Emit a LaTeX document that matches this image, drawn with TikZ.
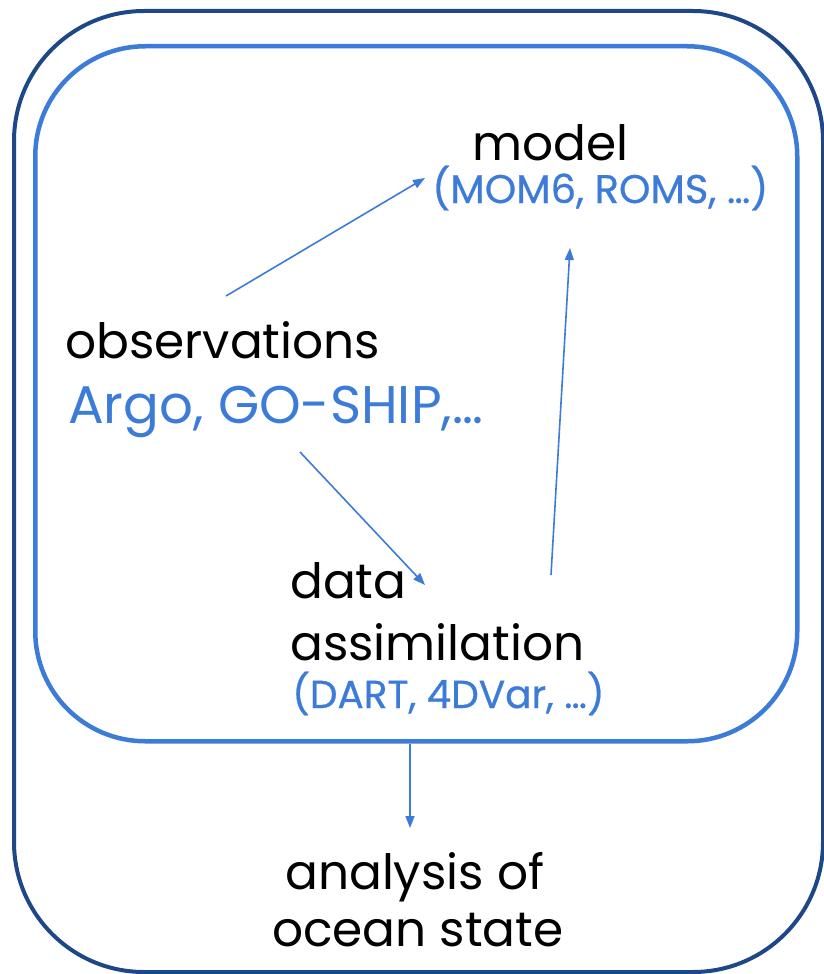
\documentclass[tikz,border=0pt]{standalone}
\usepackage{fontspec}
\setmainfont{Poppins}
\newfontfamily\medfont{Poppins}[FakeBold=0.6]
\usetikzlibrary{arrows.meta}
\definecolor{darkblue}{HTML}{1E4788}
\definecolor{midblue}{HTML}{3C7BD8}
\begin{document}
\begin{tikzpicture}[x=1pt,y=-1pt,
  blk/.style={anchor=base west,inner sep=0pt,text=black,font=\fontsize{48.6}{58}\selectfont},
  bluetxt/.style={anchor=base west,inner sep=0pt,text=midblue},
  conn/.style={draw=midblue,line width=1.6pt,-{Triangle[length=12pt,width=9pt]}}]
\useasboundingbox (0,0) rectangle (824,974);
\draw[darkblue,line width=4pt,rounded corners=130pt] (14,11) rectangle (823,972);
\node[draw=midblue,line width=4.5pt,rounded corners=110pt,minimum width=762pt,minimum height=695pt,inner sep=0pt,anchor=north west] (inner) at (33,44) {};
\node[blk] (model) at (472,160) {model};
\node[bluetxt,font=\medfont\fontsize{40}{48}\selectfont] (mom) at (432,203) {(MOM6, ROMS, …)};
\node[blk] (obs) at (65,358) {observations};
\node[bluetxt,font=\fontsize{53}{64}\selectfont] (argo) at (68,423) {Argo, GO-SHIP,…};
\node[blk] (data) at (290,598) {data};
\node[blk] (assim) at (290,660) {assimilation};
\node[bluetxt,font=\medfont\fontsize{39}{47}\selectfont] (dart) at (292,708) {(DART, 4DVar, …)};
\node[blk] (anal) at (285,889) {analysis of};
\node[blk] (ocean) at (272,946) {ocean state};
\coordinate (a1s) at (226,296);
\coordinate (a1e) at (425,178);
\coordinate (a2s) at (300,452);
\coordinate (a2e) at (425,585);
\coordinate (a3s) at (551,575);
\coordinate (a3e) at (570,248);
\coordinate (a4e) at (410,828);
\draw[conn] (a1s) -- (a1e);
\draw[conn] (a2s) -- (a2e);
\draw[conn] (a3s) -- (a3e);
\draw[conn] (inner.south -| a4e) -- (a4e);
\end{tikzpicture}
\end{document}
